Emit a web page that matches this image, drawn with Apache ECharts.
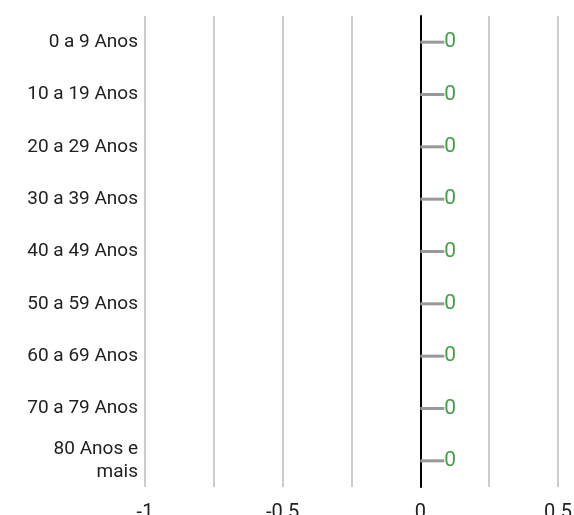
<!DOCTYPE html>
<html><head><meta charset="utf-8">
<script src="https://cdn.jsdelivr.net/npm/echarts@6/dist/echarts.min.js"></script>
<style>html,body{margin:0;padding:0;background:#fff}#c{width:574px;height:515px}</style>
</head><body><div id="c"></div>
<script>
const categories = ['0 a 9 Anos','10 a 19 Anos','20 a 29 Anos','30 a 39 Anos','40 a 49 Anos','50 a 59 Anos','60 a 69 Anos','70 a 79 Anos','80 Anos e\nmais'];
const values = [0,0,0,0,0,0,0,0,0];
const xTicks = [-1,-0.5,0,0.5];
const chart = echarts.init(document.getElementById('c'));
chart.setOption({
  animation:false,
  grid:{left:145,right:16,top:16,bottom:28,containLabel:false,outerBoundsMode:'none'},
  xAxis:{type:'value',min:-1,max:0.5,interval:0.25,
    axisLine:{show:false},axisTick:{show:false},
    splitLine:{lineStyle:{color:'#cccccc',width:2}},
    axisLabel:{fontFamily:'Roboto',fontSize:20,color:'#212121',margin:16,
      formatter:v=>xTicks.some(t=>Math.abs(t-v)<1e-9)?String(v):''}},
  yAxis:{type:'category',data:categories,inverse:true,
    axisLine:{show:true,onZero:true,lineStyle:{color:'#000',width:2}},
    axisTick:{show:false},
    axisLabel:{fontFamily:'Roboto',fontSize:19,color:'#212121',margin:7,lineHeight:23,align:'right'}},
  series:[{type:'bar',data:values,barWidth:'60%',itemStyle:{color:'#43a047'},
    label:{show:true,position:'right',distance:0,color:'#43a047',fontFamily:'Roboto',fontSize:21},
    labelLayout:{dx:24},
    labelLine:{show:true,lineStyle:{color:'#999',width:3}}}]
});
</script></body></html>
